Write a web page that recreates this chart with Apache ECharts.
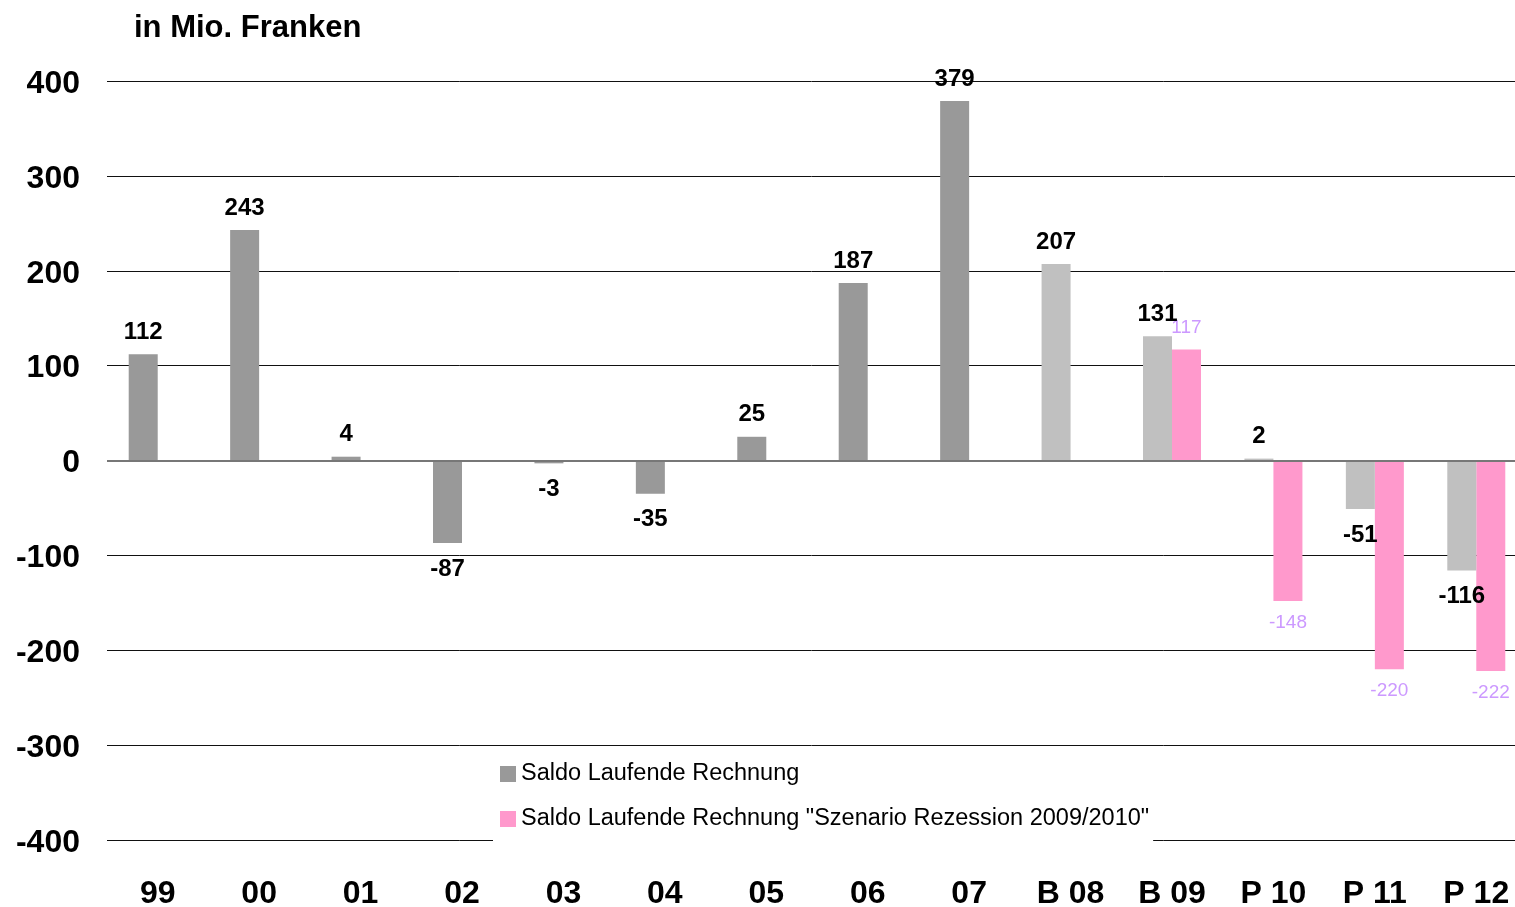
<!DOCTYPE html>
<html>
<head>
<meta charset="utf-8">
<script src="https://cdn.jsdelivr.net/npm/echarts@6/dist/echarts.min.js"></script>
<style>
  html, body { margin: 0; padding: 0; background: #fff; }
  #chart { width: 1515px; height: 907px; }
</style>
</head>
<body>
<div id="chart"></div>
<script>
const categories = ['99', '00', '01', '02', '03', '04', '05', '06', '07', 'B 08', 'B 09', 'P 10', 'P 11', 'P 12']
const saldo = [112, 243, 4, -87, -3, -35, 25, 187, 379, 207, 131, 2, -51, -116]
const rezession = [null, null, null, null, null, null, null, null, null, null, 117, -148, -220, -222]
const yTicks = [-400, -300, -200, -100, 0, 100, 200, 300, 400]

const darkGray = '#999999'
const lightGray = '#c0c0c0'
const pink = '#ff99cc'
const fontFamily = 'Liberation Sans, Arial, Helvetica, sans-serif'

const chart = echarts.init(document.getElementById('chart'))

const option = {
  animation: false,
  textStyle: { fontFamily },
  title: {
    text: 'in Mio. Franken',
    left: 129,
    top: 8,
    textStyle: { fontSize: 31, fontWeight: 'bold', color: '#000', fontFamily },
  },
  legend: {
    orient: 'vertical',
    left: 493,
    top: 757,
    padding: [5, 4, 16, 7],
    backgroundColor: '#fff',
    itemWidth: 16,
    itemHeight: 16,
    itemGap: 21,
    icon: 'rect',
    textStyle: { fontSize: 23.5, color: '#000', fontFamily },
    data: [
      { name: 'Saldo Laufende Rechnung', itemStyle: { color: darkGray } },
      { name: 'Saldo Laufende Rechnung "Szenario Rezession 2009/2010"', itemStyle: { color: pink } },
    ],
  },
  grid: { left: 107, top: 81, width: 1420, height: 759, outerBoundsMode: 'none', containLabel: false },
  xAxis: {
    type: 'category',
    data: categories,
    axisLine: { show: false },
    axisTick: { show: false },
    axisLabel: { fontSize: 32, fontWeight: 'bold', color: '#000', margin: 38, interval: 0 },
  },
  yAxis: {
    type: 'value',
    min: yTicks[0],
    max: yTicks[yTicks.length - 1],
    interval: 100,
    axisLine: { show: false },
    axisTick: { show: false },
    axisLabel: {
      margin: 27,
      formatter: '{v|{value}}',
      rich: {
        v: { fontSize: 32, fontWeight: 'bold', color: '#000', fontFamily, padding: [6, 0, 0, 0] },
      },
    },
    splitLine: { lineStyle: { color: '#111', width: 1 } },
  },
  series: [
    {
      name: 'Saldo Laufende Rechnung',
      type: 'bar',
      barWidth: 29,
      barGap: '0%',
      itemStyle: { color: darkGray },
      data: saldo.map((v, i) => ({
        value: v,
        itemStyle: { color: i >= 9 ? lightGray : darkGray },
        label: v < 0 ? { position: 'bottom', distance: 14 } : { position: 'top', distance: 10 },
      })),
      label: {
        show: true,
        fontSize: 24,
        fontWeight: 'bold',
        color: '#000',
      },
      markLine: {
        silent: true,
        symbol: 'none',
        label: { show: false },
        lineStyle: { color: '#777', width: 2, type: 'solid' },
        data: [{ yAxis: 0 }],
      },
      z: 3,
    },
    {
      name: 'Saldo Laufende Rechnung "Szenario Rezession 2009/2010"',
      type: 'bar',
      barWidth: 29,
      barGap: '0%',
      itemStyle: { color: pink },
      data: rezession.map(v => (v === null ? null : {
        value: v,
        label: { position: v < 0 ? 'bottom' : 'top' },
      })),
      label: {
        show: true,
        distance: 12,
        fontSize: 19,
        color: '#cc99ff',
      },
      z: 2,
    },
  ],
}

chart.setOption(option)
</script>
</body>
</html>
